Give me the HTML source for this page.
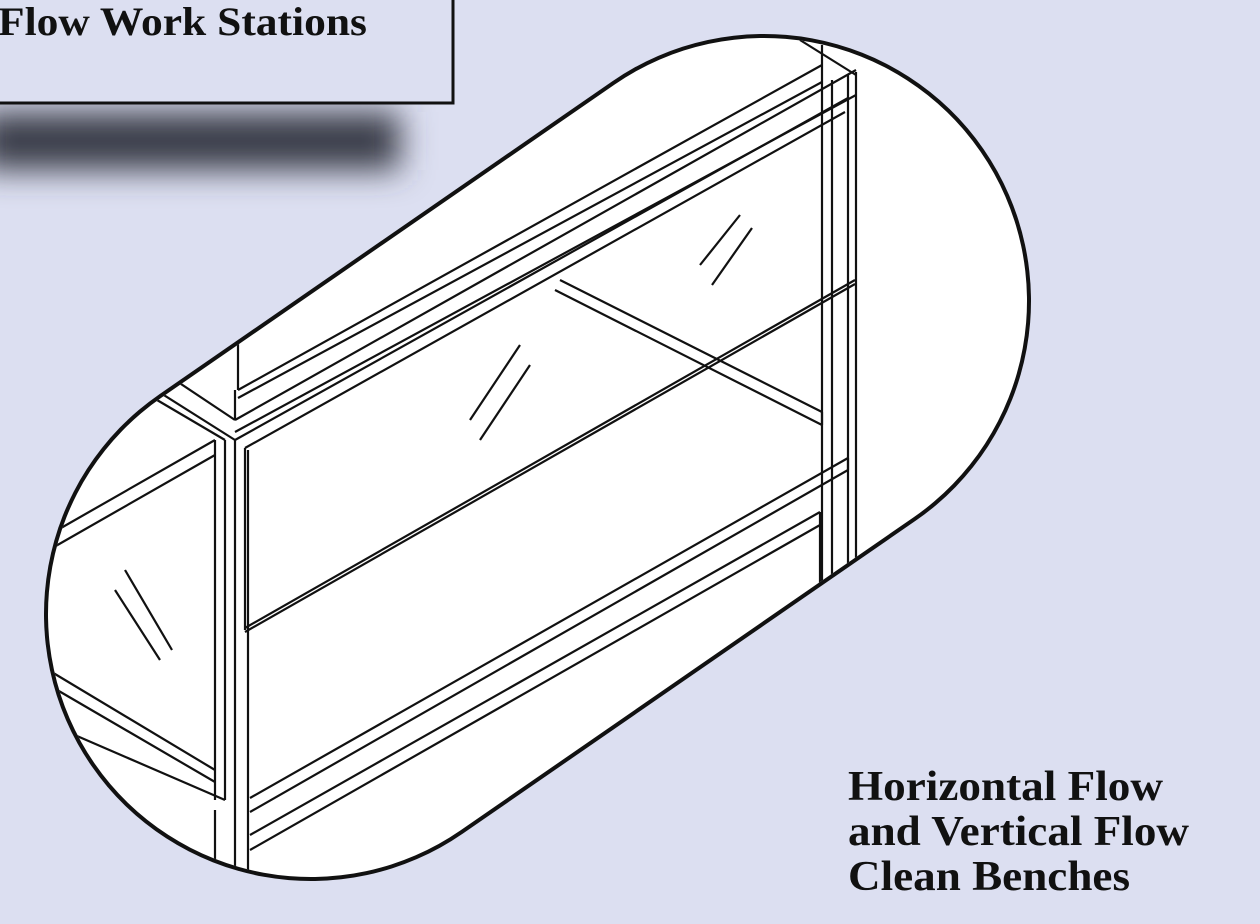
<!DOCTYPE html>
<html><head><meta charset="utf-8"><style>
html,body{margin:0;padding:0;width:1260px;height:924px;overflow:hidden;background:#dcdff1;}
svg{display:block}
text{font-family:"Liberation Serif",serif;font-weight:bold;fill:#111}
</style></head><body>
<svg width="1260" height="924" viewBox="0 0 1260 924" xmlns="http://www.w3.org/2000/svg">
<defs>
<filter id="bl" x="-20%" y="-80%" width="140%" height="260%"><feGaussianBlur stdDeviation="16"/></filter>
<mask id="m"><rect width="1260" height="924" fill="black"/><path d="M311,614 L764,301" stroke="white" stroke-width="526" stroke-linecap="round"/></mask>
</defs>
<rect width="1260" height="924" fill="#dcdff1"/>
<rect x="-20" y="112" width="420" height="58" fill="#3a3d48" filter="url(#bl)"/>
<rect x="-10" y="-10" width="463" height="113" fill="#dcdff1" stroke="#111" stroke-width="3"/>
<text x="-2" y="35" font-size="40" textLength="369" lengthAdjust="spacingAndGlyphs">Flow Work Stations</text>
<path d="M311,614 L764,301" stroke="#111" stroke-width="534" stroke-linecap="round"/>
<path d="M311,614 L764,301" stroke="#fff" stroke-width="526" stroke-linecap="round"/>
<g mask="url(#m)" stroke="#111" fill="none" stroke-width="2.2">
<path d="M822,45 V585 M832,80 V575 M848,75 V570 M856,72 V565"/>
<path d="M800,40 L856,75"/>
<path d="M235,420 L856,70 M235,432 L856,95 M238,390 L822,65 M238,398 L822,82"/>
<path d="M235,390 V420 M238,330 V390"/>
<path d="M160,370 L235,420 M140,380 L235,440"/>
<path d="M235,440 L848,98 M245,448 L845,112"/>
<path d="M245,448 V630 M235,440 V880 M248,450 V880"/>
<path d="M245,628 L855,280 M245,632 L855,284"/>
<path d="M555,290 L822,425 M560,280 L822,412 M822,412 V425"/>
<path d="M250,798 L848,458 M250,812 L848,470 M848,458 V470"/>
<path d="M250,835 L820,512 M250,850 L820,525 M820,512 V585"/>
<path d="M40,540 L215,440 M40,555 L215,455 M215,440 V800 M225,440 V800"/>
<path d="M40,665 L215,770 M40,680 L215,782 M40,720 L225,800 M215,810 V880"/>
<path d="M140,390 L225,440"/>
<path d="M470,420 L520,345 M480,440 L530,365 M700,265 L740,215 M712,285 L752,228 M115,590 L160,660 M125,570 L172,650"/>
</g>
<text x="848" y="800" font-size="42" textLength="315" lengthAdjust="spacingAndGlyphs">Horizontal Flow</text>
<text x="848" y="845" font-size="42" textLength="341" lengthAdjust="spacingAndGlyphs">and Vertical Flow</text>
<text x="848" y="890" font-size="42" textLength="282" lengthAdjust="spacingAndGlyphs">Clean Benches</text>
</svg>
</body></html>
